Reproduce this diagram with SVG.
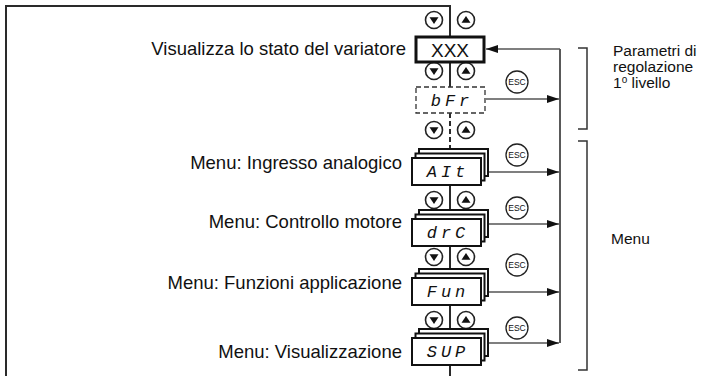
<svg xmlns="http://www.w3.org/2000/svg" width="706" height="376" viewBox="0 0 706 376">
<style>
.frame{fill:none;stroke:#2a2a2a;stroke-width:2}
.conn{fill:none;stroke:#555;stroke-width:1.5}
.brk{fill:none;stroke:#333;stroke-width:1.5}
.lbl{font-family:"Liberation Sans",Arial,sans-serif;font-size:18.5px;fill:#111}
.rlbl{font-family:"Liberation Sans",Arial,sans-serif;font-size:15.5px;fill:#111}
.seg{font-family:"Liberation Mono","DejaVu Sans Mono",monospace;font-style:italic;font-size:17px;fill:#111;letter-spacing:4px}
.box{fill:#fff;stroke:#111;stroke-width:2}
.btn{fill:#fff;stroke:#222;stroke-width:1.6}
.tri{fill:#111}
.esc{fill:#fff;stroke:#222;stroke-width:1.3}
.esct{font-family:"Liberation Sans",Arial,sans-serif;font-size:8.5px;fill:#111}
</style>
<defs>
<marker id="ah" viewBox="0 0 12 8" refX="12" refY="4" markerWidth="12" markerHeight="8" markerUnits="userSpaceOnUse" orient="auto">
<path d="M0,0 L12,4 L0,8 Z" fill="#111"/>
</marker>
<g id="bdown"><circle class="btn" cx="0" cy="0" r="8.5"/><path class="tri" d="M-4.5,-2.8 H4.5 L0,4 Z"/></g>
<g id="bup"><circle class="btn" cx="0" cy="0" r="8.5"/><path class="tri" d="M-4.5,2.8 H4.5 L0,-4 Z"/></g>
<g id="escb"><circle class="esc" cx="0" cy="0" r="11"/><text class="esct" x="0" y="3" text-anchor="middle">ESC</text></g>
<g id="stack">
<rect class="box" x="7" y="-9" width="69" height="27"/>
<rect class="box" x="3.5" y="-4.5" width="69" height="27"/>
<rect class="box" x="0" y="0" width="69" height="27"/>
</g>
</defs>
<rect width="706" height="376" fill="#fff"/>
<g id="connectors">
<path class="frame" d="M6,376 V6 H450 V37"/>
<path class="frame" d="M450,62 V87"/>
<path class="frame" d="M450,113 V149" stroke-dasharray="5,3"/>
<path class="frame" d="M450,185 V210"/>
<path class="frame" d="M450,246 V269"/>
<path class="frame" d="M450,305 V329"/>
<path class="frame" d="M450,365 V376"/>
<path class="frame" d="M560,49 V343" style="stroke-width:1.5;stroke:#222"/>
<path class="conn" d="M560,49 H486" marker-end="url(#ah)"/>
<path class="conn" d="M486,99 H559" marker-end="url(#ah)"/>
<path class="conn" d="M489,172 H559" marker-end="url(#ah)"/>
<path class="conn" d="M489,224 H559" marker-end="url(#ah)"/>
<path class="conn" d="M489,292 H559" marker-end="url(#ah)"/>
<path class="conn" d="M489,343 H559" marker-end="url(#ah)"/>
</g>
<g id="buttons">
<use href="#bdown" x="434" y="20"/><use href="#bup" x="466" y="20"/>
<use href="#bdown" x="434" y="71"/><use href="#bup" x="466" y="71"/>
<use href="#bdown" x="434" y="130"/><use href="#bup" x="466" y="130"/>
<use href="#bdown" x="434" y="200"/><use href="#bup" x="466" y="200"/>
<use href="#bdown" x="434" y="257"/><use href="#bup" x="466" y="257"/>
<use href="#bdown" x="434" y="320"/><use href="#bup" x="466" y="320"/>
<use href="#escb" x="517" y="82"/>
<use href="#escb" x="517" y="155"/>
<use href="#escb" x="517" y="208"/>
<use href="#escb" x="517" y="265"/>
<use href="#escb" x="517" y="328"/>
</g>
<g id="node-xxx">
<rect x="416" y="37" width="68" height="25" fill="#fff" stroke="#111" stroke-width="3"/>
<text x="450" y="57" text-anchor="middle" style="font-family:'Liberation Sans',Arial,sans-serif;font-size:19px;fill:#111">XXX</text>
<text class="lbl" x="406" y="55" text-anchor="end">Visualizza lo stato del variatore</text>
</g>
<g id="node-bfr">
<rect x="416" y="87" width="69" height="26" fill="#fff" stroke="#333" stroke-width="1.3" stroke-dasharray="5,3"/>
<text class="seg" x="452" y="106" text-anchor="middle">bFr</text>
</g>
<g id="node-ait">
<use href="#stack" x="412" y="158"/>
<text class="seg" x="448" y="177" text-anchor="middle">AIt</text>
<text class="lbl" x="402" y="169" text-anchor="end">Menu: Ingresso analogico</text>
</g>
<g id="node-drc">
<use href="#stack" x="412" y="219"/>
<text class="seg" x="448" y="238" text-anchor="middle">drC</text>
<text class="lbl" x="402" y="228" text-anchor="end">Menu: Controllo motore</text>
</g>
<g id="node-fun">
<use href="#stack" x="412" y="278"/>
<text class="seg" x="448" y="297" text-anchor="middle">Fun</text>
<text class="lbl" x="402" y="289" text-anchor="end">Menu: Funzioni applicazione</text>
</g>
<g id="node-sup">
<use href="#stack" x="412" y="338"/>
<text class="seg" x="448" y="357" text-anchor="middle">SUP</text>
<text class="lbl" x="402" y="358" text-anchor="end">Menu: Visualizzazione</text>
</g>
<g id="brackets">
<path class="brk" d="M578,48 H587 V129 H578"/>
<path class="brk" d="M578,141 H587 V370 H578"/>
<text class="rlbl" x="613" y="56">Parametri di</text>
<text class="rlbl" x="613" y="72">regolazione</text>
<text class="rlbl" x="613" y="88">1<tspan dy="-5" font-size="10px">o</tspan><tspan dy="5"> livello</tspan></text>
<text class="rlbl" x="611" y="244">Menu</text>
</g>
</svg>
